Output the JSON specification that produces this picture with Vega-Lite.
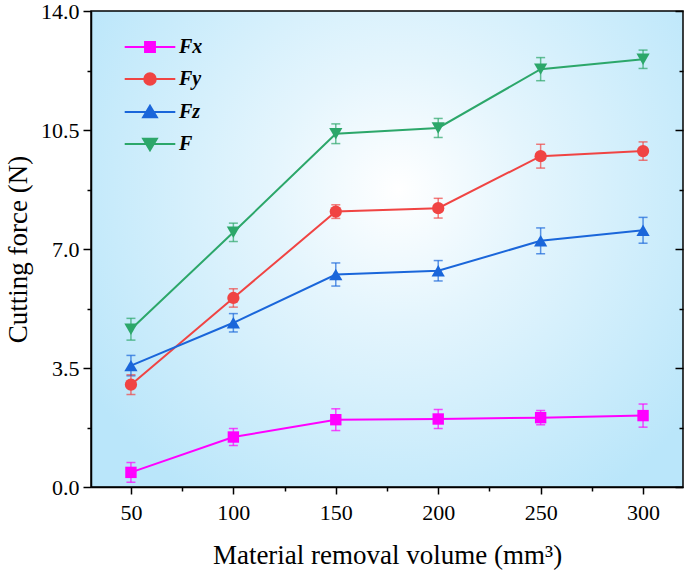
{
  "$schema": "https://vega.github.io/schema/vega-lite/v6.json",
  "width": 592,
  "height": 476,
  "autosize": {"type": "none"},
  "padding": {"left": 91, "top": 11, "right": 2, "bottom": 88},
  "data": {
    "values": [
      {"v": 50, "s": "Fx", "f": 0.43, "lo": 0.14, "hi": 0.72},
      {"v": 100, "s": "Fx", "f": 1.47, "lo": 1.22, "hi": 1.72},
      {"v": 150, "s": "Fx", "f": 1.98, "lo": 1.66, "hi": 2.3},
      {"v": 200, "s": "Fx", "f": 2.0, "lo": 1.72, "hi": 2.28},
      {"v": 250, "s": "Fx", "f": 2.04, "lo": 1.83, "hi": 2.25},
      {"v": 300, "s": "Fx", "f": 2.1, "lo": 1.76, "hi": 2.44},
      {"v": 50, "s": "Fy", "f": 3.01, "lo": 2.72, "hi": 3.3},
      {"v": 100, "s": "Fy", "f": 5.56, "lo": 5.29, "hi": 5.83},
      {"v": 150, "s": "Fy", "f": 8.1, "lo": 7.9, "hi": 8.3},
      {"v": 200, "s": "Fy", "f": 8.2, "lo": 7.91, "hi": 8.49},
      {"v": 250, "s": "Fy", "f": 9.73, "lo": 9.38, "hi": 10.08},
      {"v": 300, "s": "Fy", "f": 9.88, "lo": 9.61, "hi": 10.15},
      {"v": 50, "s": "Fz", "f": 3.57, "lo": 3.27, "hi": 3.87},
      {"v": 100, "s": "Fz", "f": 4.83, "lo": 4.56, "hi": 5.1},
      {"v": 150, "s": "Fz", "f": 6.25, "lo": 5.91, "hi": 6.59},
      {"v": 200, "s": "Fz", "f": 6.36, "lo": 6.06, "hi": 6.66},
      {"v": 250, "s": "Fz", "f": 7.24, "lo": 6.86, "hi": 7.62},
      {"v": 300, "s": "Fz", "f": 7.55, "lo": 7.17, "hi": 7.93},
      {"v": 50, "s": "F", "f": 4.64, "lo": 4.32, "hi": 4.96},
      {"v": 100, "s": "F", "f": 7.49, "lo": 7.22, "hi": 7.76},
      {"v": 150, "s": "F", "f": 10.39, "lo": 10.1, "hi": 10.68},
      {"v": 200, "s": "F", "f": 10.56, "lo": 10.28, "hi": 10.84},
      {"v": 250, "s": "F", "f": 12.29, "lo": 11.95, "hi": 12.63},
      {"v": 300, "s": "F", "f": 12.58, "lo": 12.31, "hi": 12.85}
    ]
  },
  "config": {
    "font": "Liberation Serif",
    "view": {
      "stroke": "#000000",
      "strokeWidth": 1.5,
      "fill": {
        "gradient": "radial",
        "x1": 0.52, "y1": 0.4, "r1": 0,
        "x2": 0.52, "y2": 0.4, "r2": 0.62,
        "stops": [
          {"offset": 0, "color": "#ffffff"},
          {"offset": 0.35, "color": "#e4f5fd"},
          {"offset": 1, "color": "#bae6fa"}
        ]
      }
    },
    "axis": {
      "grid": false,
      "domainColor": "#000000",
      "domainWidth": 1.5,
      "tickColor": "#000000",
      "tickWidth": 1.5,
      "labelColor": "#000000",
      "titleColor": "#000000",
      "labelFont": "Liberation Serif",
      "titleFont": "Liberation Serif",
      "labelFontSize": 22,
      "titleFontSize": 27,
      "titleFontWeight": "normal",
      "labelFlush": false,
      "labelOverlap": false
    }
  },
  "resolve": {"axis": {"x": "independent", "y": "independent"}},
  "layer": [
    {
      "transform": [{"filter": "datum.v < 0"}],
      "mark": {"type": "point", "filled": true, "opacity": 1},
      "encoding": {
        "x": {
          "field": "v", "type": "quantitative",
          "scale": {"domain": [30.5, 319.5], "nice": false, "zero": false},
          "axis": null
        },
        "y": {
          "field": "f", "type": "quantitative",
          "scale": {"domain": [0, 14], "nice": false, "zero": false},
          "axis": {"orient": "right", "values": [1.75, 5.25, 8.75, 12.25], "labels": false, "domain": false, "tickSize": -4, "title": null}
        },
        "shape": {
          "field": "s", "type": "nominal",
          "scale": {
            "domain": ["Fx", "Fy", "Fz", "F"],
            "range": [
              "M-4.6,0H4.6M-0.9,-0.9H0.9V0.9H-0.9Z",
              "M-4.6,0H4.6M-1.05,0A1.05,1.05,0,1,0,1.05,0A1.05,1.05,0,1,0,-1.05,0Z",
              "M-4.6,0H4.6M0,-1.15L1.25,0.95H-1.25Z",
              "M-4.6,0H4.6M0,1.15L1.25,-0.95H-1.25Z"
            ]
          }
        },
        "stroke": {
          "field": "s", "type": "nominal",
          "scale": {"domain": ["Fx", "Fy", "Fz", "F"], "range": ["#ff00ff", "#f04443", "#1a66da", "#2ca76a"]}
        },
        "color": {
          "field": "s", "type": "nominal",
          "scale": {"domain": ["Fx", "Fy", "Fz", "F"], "range": ["#ff00ff", "#f04443", "#1a66da", "#2ca76a"]},
          "legend": {
            "orient": "none",
            "legendX": 49,
            "legendY": 26,
            "title": null,
            "padding": 0,
            "labelFont": "Liberation Serif",
            "labelFontSize": 20,
            "labelFontWeight": "bold",
            "labelFontStyle": "italic",
            "labelColor": "#000000",
            "symbolSize": 121,
            "symbolStrokeWidth": 2,
            "symbolOpacity": 1,
            "labelOffset": 19,
            "rowPadding": 12
          }
        }
      }
    },
    {
      "mark": {"type": "errorbar", "ticks": {"size": 9, "thickness": 1.5, "fillOpacity": 0.7}, "rule": {"strokeOpacity": 0.7}, "thickness": 1.5},
      "encoding": {
        "x": {
          "field": "v", "type": "quantitative",
          "scale": {"domain": [30.5, 319.5], "nice": false, "zero": false},
          "axis": {"orient": "bottom", "values": [50, 100, 150, 200, 250, 300], "format": "d", "tickSize": 7, "labelPadding": 8, "title": "Material removal volume (mm³)", "titlePadding": 19}
        },
        "y": {
          "field": "lo", "type": "quantitative",
          "scale": {"domain": [0, 14], "nice": false, "zero": false},
          "axis": {"orient": "left", "values": [0, 3.5, 7, 10.5, 14], "format": ".1f", "tickSize": 8, "labelPadding": 4, "title": "Cutting force (N)", "titlePadding": 8}
        },
        "y2": {"field": "hi"},
        "color": {
          "field": "s", "type": "nominal",
          "scale": {"domain": ["Fx", "Fy", "Fz", "F"], "range": ["#ff00ff", "#f04443", "#1a66da", "#2ca76a"]}
        }
      }
    },
    {
      "mark": {"type": "line", "strokeWidth": 2},
      "encoding": {
        "x": {
          "field": "v", "type": "quantitative",
          "scale": {"domain": [30.5, 319.5], "nice": false, "zero": false},
          "axis": {"orient": "bottom", "values": [75, 125, 175, 225, 275], "labels": false, "domain": false, "tickSize": 4, "title": null}
        },
        "y": {
          "field": "f", "type": "quantitative",
          "scale": {"domain": [0, 14], "nice": false, "zero": false},
          "axis": {"orient": "left", "values": [1.75, 5.25, 8.75, 12.25], "labels": false, "domain": false, "tickSize": 4, "title": null}
        },
        "color": {
          "field": "s", "type": "nominal",
          "scale": {"domain": ["Fx", "Fy", "Fz", "F"], "range": ["#ff00ff", "#f04443", "#1a66da", "#2ca76a"]}
        }
      }
    },
    {
      "transform": [{"filter": "datum.s === 'Fx'"}],
      "mark": {"type": "point", "filled": true, "opacity": 1, "size": 130, "shape": "square"},
      "encoding": {
        "x": {"field": "v", "type": "quantitative", "scale": {"domain": [30.5, 319.5], "nice": false, "zero": false}, "axis": null},
        "y": {
          "field": "f", "type": "quantitative",
          "scale": {"domain": [0, 14], "nice": false, "zero": false},
          "axis": {"orient": "right", "values": [0, 3.5, 7, 10.5, 14], "labels": false, "domain": false, "tickSize": -8, "title": null}
        },
        "color": {"field": "s", "type": "nominal", "scale": {"domain": ["Fx", "Fy", "Fz", "F"], "range": ["#ff00ff", "#f04443", "#1a66da", "#2ca76a"]}}
      }
    },
    {
      "transform": [{"filter": "datum.s === 'Fy'"}],
      "mark": {"type": "point", "filled": true, "opacity": 1, "size": 150, "shape": "circle"},
      "encoding": {
        "x": {"field": "v", "type": "quantitative", "scale": {"domain": [30.5, 319.5], "nice": false, "zero": false}, "axis": null},
        "y": {"field": "f", "type": "quantitative", "scale": {"domain": [0, 14], "nice": false, "zero": false}, "axis": null},
        "color": {"field": "s", "type": "nominal", "scale": {"domain": ["Fx", "Fy", "Fz", "F"], "range": ["#ff00ff", "#f04443", "#1a66da", "#2ca76a"]}}
      }
    },
    {
      "transform": [{"filter": "datum.s === 'Fz'"}],
      "mark": {"type": "point", "filled": true, "opacity": 1, "size": 175, "shape": "triangle-up"},
      "encoding": {
        "x": {"field": "v", "type": "quantitative", "scale": {"domain": [30.5, 319.5], "nice": false, "zero": false}, "axis": null},
        "y": {"field": "f", "type": "quantitative", "scale": {"domain": [0, 14], "nice": false, "zero": false}, "axis": null},
        "color": {"field": "s", "type": "nominal", "scale": {"domain": ["Fx", "Fy", "Fz", "F"], "range": ["#ff00ff", "#f04443", "#1a66da", "#2ca76a"]}}
      }
    },
    {
      "transform": [{"filter": "datum.s === 'F'"}],
      "mark": {"type": "point", "filled": true, "opacity": 1, "size": 175, "shape": "triangle-down"},
      "encoding": {
        "x": {"field": "v", "type": "quantitative", "scale": {"domain": [30.5, 319.5], "nice": false, "zero": false}, "axis": null},
        "y": {"field": "f", "type": "quantitative", "scale": {"domain": [0, 14], "nice": false, "zero": false}, "axis": null},
        "color": {"field": "s", "type": "nominal", "scale": {"domain": ["Fx", "Fy", "Fz", "F"], "range": ["#ff00ff", "#f04443", "#1a66da", "#2ca76a"]}}
      }
    }
  ]
}
